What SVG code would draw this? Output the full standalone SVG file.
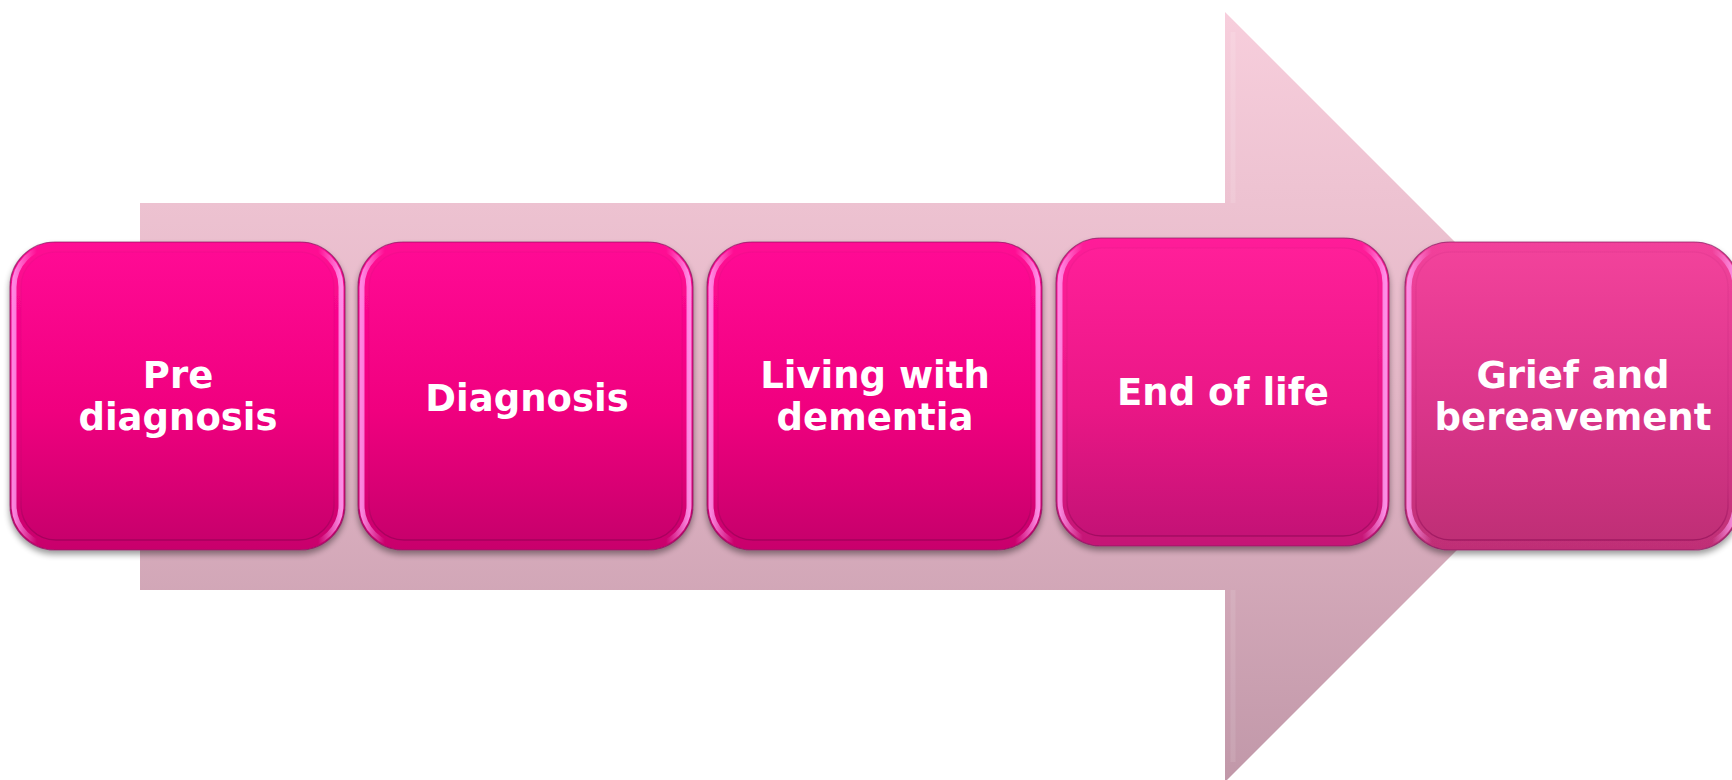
<svg xmlns="http://www.w3.org/2000/svg" width="1732" height="780" viewBox="0 0 1732 780">
  <defs>
    <linearGradient id="arrowGrad" gradientUnits="userSpaceOnUse" x1="0" y1="0" x2="0" y2="780">
      <stop offset="0" stop-color="#f8cfdd"/>
      <stop offset="0.5" stop-color="#e3b6c6"/>
      <stop offset="1" stop-color="#c198a9"/>
    </linearGradient>
    <linearGradient id="g1" x1="0" y1="0" x2="0" y2="1">
      <stop offset="0" stop-color="#ff0a94"/>
      <stop offset="0.55" stop-color="#f0007f"/>
      <stop offset="1" stop-color="#c8006c"/>
    </linearGradient>
    <linearGradient id="g4" x1="0" y1="0" x2="0" y2="1">
      <stop offset="0" stop-color="#ff1f99"/>
      <stop offset="0.55" stop-color="#ea1786"/>
      <stop offset="1" stop-color="#c41276"/>
    </linearGradient>
    <linearGradient id="g5" x1="0" y1="0" x2="0" y2="1">
      <stop offset="0" stop-color="#f2429b"/>
      <stop offset="0.55" stop-color="#da358a"/>
      <stop offset="1" stop-color="#bf2f76"/>
    </linearGradient>
    <linearGradient id="bevel" x1="0" y1="0" x2="1" y2="0">
      <stop offset="0" stop-color="#ff9cf0" stop-opacity="0.85"/>
      <stop offset="0.07" stop-color="#ff9cf0" stop-opacity="0"/>
      <stop offset="0.93" stop-color="#ff9cf0" stop-opacity="0"/>
      <stop offset="1" stop-color="#ff9cf0" stop-opacity="0.9"/>
    </linearGradient>
    <linearGradient id="innerEdge" x1="0" y1="0" x2="0" y2="1">
      <stop offset="0" stop-color="#9a0a5e" stop-opacity="0.08"/>
      <stop offset="0.8" stop-color="#9a0a5e" stop-opacity="0.15"/>
      <stop offset="1" stop-color="#7a0048" stop-opacity="0.45"/>
    </linearGradient>
    <filter id="shadow" x="-10%" y="-10%" width="120%" height="125%">
      <feGaussianBlur in="SourceAlpha" stdDeviation="3"/>
      <feOffset dx="0" dy="4" result="b"/>
      <feComponentTransfer><feFuncA type="linear" slope="0.4"/></feComponentTransfer>
      <feMerge><feMergeNode/><feMergeNode in="SourceGraphic"/></feMerge>
    </filter>
  </defs>
  <style>
    .outer { stroke: #8a1660; stroke-opacity: 0.7; stroke-width: 1.2; filter: url(#shadow); }
    .ring { fill: none; stroke: url(#bevel); stroke-width: 5; }
    .inner { stroke: url(#innerEdge); stroke-width: 1.5; }
    .label { font-family: "DejaVu Sans", Verdana, sans-serif; font-weight: bold; font-size: 37px; fill: #ffffff; text-anchor: middle; }
  </style>

  <rect width="1732" height="780" fill="#ffffff"/>

  <g id="connectors">
    <polygon id="flow-arrow" points="140,203 1225,203 1225,12 1610,397 1225,782 1225,590 140,590" fill="url(#arrowGrad)"/>
    <line x1="1233" y1="32" x2="1233" y2="203" stroke="#ffffff" stroke-opacity="0.12" stroke-width="5"/>
    <line x1="1233" y1="590" x2="1233" y2="762" stroke="#ffffff" stroke-opacity="0.1" stroke-width="5"/>
  </g>

  <g id="node-pre-diagnosis">
    <rect class="outer" x="10" y="242" width="335" height="308" rx="45" fill="url(#g1)"/>
    <rect class="ring" x="14" y="246" width="327" height="300" rx="41"/>
    <rect class="inner" x="21" y="252" width="313" height="288" rx="35" fill="url(#g1)"/>
    <text class="label" x="178" y="388">Pre</text>
    <text class="label" x="178" y="430">diagnosis</text>
  </g>

  <g id="node-diagnosis">
    <rect class="outer" x="358" y="242" width="335" height="308" rx="45" fill="url(#g1)"/>
    <rect class="ring" x="362" y="246" width="327" height="300" rx="41"/>
    <rect class="inner" x="369" y="252" width="313" height="288" rx="35" fill="url(#g1)"/>
    <text class="label" x="527" y="411">Diagnosis</text>
  </g>

  <g id="node-living-with-dementia">
    <rect class="outer" x="707" y="242" width="335" height="308" rx="45" fill="url(#g1)"/>
    <rect class="ring" x="711" y="246" width="327" height="300" rx="41"/>
    <rect class="inner" x="718" y="252" width="313" height="288" rx="35" fill="url(#g1)"/>
    <text class="label" x="875" y="388">Living with</text>
    <text class="label" x="875" y="430">dementia</text>
  </g>

  <g id="node-end-of-life">
    <rect class="outer" x="1056" y="238" width="333" height="308" rx="45" fill="url(#g4)"/>
    <rect class="ring" x="1060" y="242" width="325" height="300" rx="41"/>
    <rect class="inner" x="1067" y="248" width="311" height="288" rx="35" fill="url(#g4)"/>
    <text class="label" x="1223" y="405">End of life</text>
  </g>

  <g id="node-grief-and-bereavement">
    <rect class="outer" x="1405" y="242" width="334" height="308" rx="45" fill="url(#g5)"/>
    <rect class="ring" x="1409" y="246" width="326" height="300" rx="41"/>
    <rect class="inner" x="1416" y="252" width="312" height="288" rx="35" fill="url(#g5)"/>
    <text class="label" x="1573" y="388">Grief and</text>
    <text class="label" x="1573" y="430">bereavement</text>
  </g>
</svg>
